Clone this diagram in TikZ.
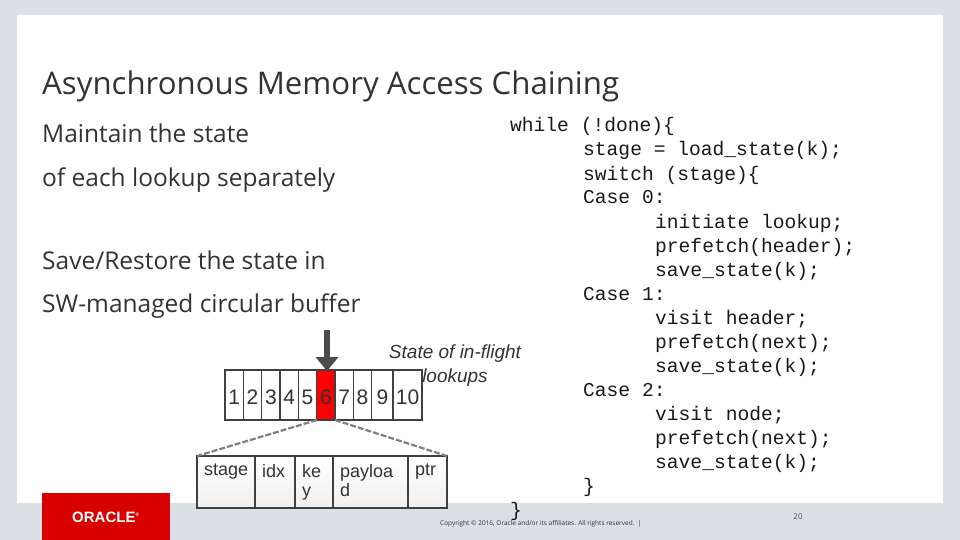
\documentclass[tikz,border=0pt]{standalone}
\usepackage{fontspec}
\usetikzlibrary{arrows.meta}
\setmainfont{Open Sans}
\newfontfamily\arialf{Liberation Sans}
\newfontfamily\monof{Liberation Mono}
\definecolor{bgc}{HTML}{D9E0E6}
\begin{document}
\begin{tikzpicture}[x=1pt,y=-1pt,
  code/.style={anchor=base west,inner sep=0,font=\monof\fontsize{19.6}{20}\selectfont,text=black!90},
  txt/.style={anchor=base west,inner sep=0,font=\fontsize{24.5}{26}\selectfont,text=black!80},
  fld/.style={anchor=north west,inner sep=0,font=\arialf\fontsize{18}{19}\selectfont,align=left,text=black!80}]
\useasboundingbox (0,0) rectangle (960,540);
\fill[bgc] (0,0) rectangle (960,540);
\fill[white] (17,15) rectangle (943,503);
\node[anchor=base west,inner sep=0,font=\fontsize{31.2}{33}\selectfont,text=black!80] (title) at (42,95) {Asynchronous Memory Access Chaining};
\node[txt] (b1) at (42,143) {Maintain the state};
\node[txt] (b2) at (42,186) {of each lookup separately};
\node[txt] (b3) at (42,269) {Save/Restore the state in};
\node[txt] (b4) at (42,312) {SW-managed circular buffer};
% code
\foreach \t/\x/\y in {{while (!done)\{}/510/132, {stage = load\_state(k);}/583/156, {switch (stage)\{}/583/180, {Case 0:}/583/204, {initiate lookup;}/655/228, {prefetch(header);}/655/252, {save\_state(k);}/655/276, {Case 1:}/583/300, {visit header;}/655/324, {prefetch(next);}/655/348, {save\_state(k);}/655/372, {Case 2:}/583/396, {visit node;}/655/420, {prefetch(next);}/655/444, {save\_state(k);}/655/468, {\}}/583/492, {\}}/510/516}
  \node[code] at (\x,\y) {\t};
% buffer
\foreach \i/\a/\b in {1/225/243.3,2/243.3/261.7,3/261.7/280,4/280/298.3,5/298.3/316.7,6/316.7/335,7/335/353.3,8/353.3/371.7,9/371.7/393,10/393/422}{
  \ifnum\i=6 \fill[red] (\a,370) rectangle (\b,420);\fi
  \draw[black!75,line width=1.2pt] (\a,370) rectangle (\b,420);
  \node[inner sep=0,font=\arialf\fontsize{21}{21}\selectfont,text=black!80] (c\i) at ({(\a+\b)/2},397) {\i};
}
\coordinate (ct) at (327,330);
\coordinate (cb) at (327,371);
\draw[black!70,line width=6pt,-{Triangle[length=14pt,width=22pt]}] (ct) -- (cb);
\node[align=center,inner sep=0,font=\arialf\itshape\fontsize{19}{24}\selectfont,text=black!80] (st) at (455,366) {State of in-flight\\lookups};
% table
\foreach \a/\b/\t in {197/255/stage,255/295/idx,295/333/{ke\\y},333/408/{payloa\\d},408/447/ptr}{
  \draw[black!75,line width=1.2pt,top color=white,bottom color=gray!12] (\a,456) rectangle (\b,508);
  \node[fld] at (\a+7,464) {\t};
}
\coordinate (l6) at (317,420); \coordinate (r6) at (335,420);
\coordinate (tl) at (197,456); \coordinate (tr) at (447,456);
\draw[gray,line width=2.2pt,dash pattern=on 6pt off 2pt] (l6) -- (tl);
\draw[gray,line width=2.2pt,dash pattern=on 6pt off 2pt] (r6) -- (tr);
% footer
\fill[red!85!black] (42,493) rectangle (170,540);
\node[text=white,font=\arialf\bfseries\fontsize{15}{15}\selectfont,inner sep=0] (logo) at (106,517) {ORACLE\textsuperscript{\tiny ®}};
\node[anchor=base west,inner sep=0,font=\fontsize{6.5}{7}\selectfont,text=black!80] (copy) at (440,525) {Copyright © 2016, Oracle and/or its affiliates. All rights reserved.\enspace|};
\node[inner sep=0,font=\fontsize{8}{8}\selectfont,text=black!70] (pg) at (798,517) {20};
\end{tikzpicture}
\end{document}
